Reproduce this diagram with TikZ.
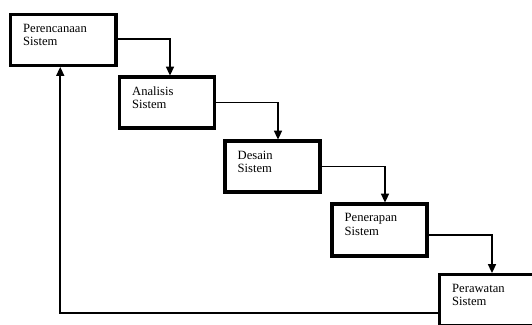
\documentclass[tikz,border=0pt]{standalone}
\usepackage{fontspec}
\setmainfont{Liberation Serif}
\usetikzlibrary{arrows.meta}

\tikzset{
  tahap/.style={draw, line width=3.2pt, minimum width=95pt, minimum height=51pt,
    inner sep=0pt, outer sep=0pt},
  teks/.style={anchor=north west, align=left, inner sep=0pt,
    font=\fontsize{12.6}{13.5}\selectfont},
  panah/.style={line width=1.6pt, -{Triangle[length=9pt,width=8pt]}, shorten >=1.4pt}
}

\begin{document}
\begin{tikzpicture}[x=1pt, y=-1pt]
  \useasboundingbox (0,0) rectangle (532,324);
  \clip (0,0) rectangle (532,324);

  % Tahapan
  \node[tahap, minimum width=105.5pt] (rencana) at (63.25,40) {};
  \node[tahap] (analisis) at (167,102.5) {};
  \node[tahap] (desain) at (272.5,166.5) {};
  \node[tahap, minimum height=52pt] (terap) at (379.5,230) {};
  \node[tahap] (rawat) at (487,300) {};

  % Teks
  \node[teks] (rencana-t) at ([shift={(12.5,9.5)}]rencana.north west) {Perencanaan\\Sistem};
  \node[teks] (analisis-t) at ([shift={(12.5,9.5)}]analisis.north west) {Analisis\\Sistem};
  \node[teks] (desain-t) at ([shift={(12.5,9.5)}]desain.north west) {Desain\\Sistem};
  \node[teks] (terap-t) at ([shift={(12.5,9.5)}]terap.north west) {Penerapan\\Sistem};
  \node[teks] (rawat-t) at ([shift={(12.5,9.5)}]rawat.north west) {Perawatan\\Sistem};

  % Panah
  \draw[panah] ([yshift=1pt]rencana.east) -| ([xshift=3pt]analisis.north);
  \draw[panah] (analisis.east) -| ([xshift=5.5pt]desain.north);
  \draw[panah] (desain.east) -| ([xshift=5.5pt]terap.north);
  \draw[panah] ([yshift=-5pt]terap.east) -| ([xshift=5pt]rawat.north);

  % Umpan balik
  \draw[panah] ([yshift=-13pt]rawat.west) -| ([xshift=-3pt]rencana.south);
\end{tikzpicture}
\end{document}
